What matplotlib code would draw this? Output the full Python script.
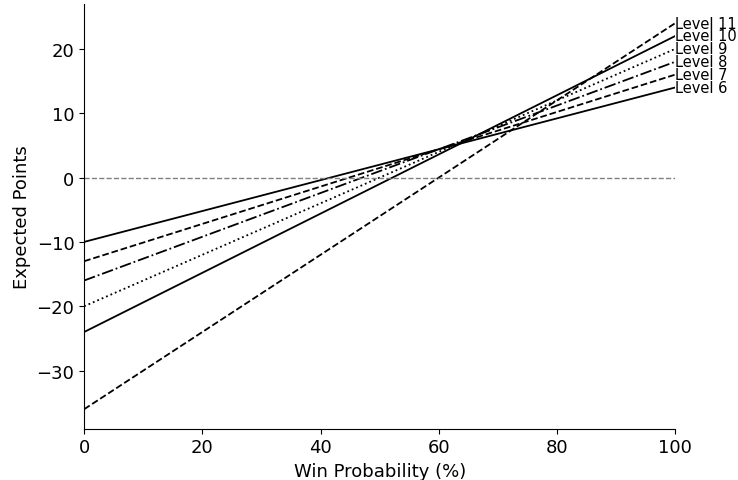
import matplotlib
matplotlib.use('Agg')
import matplotlib.pyplot as plt
import numpy as np

levels = ['Level 6', 'Level 7', 'Level 8', 'Level 9', 'Level 10', 'Level 11']
lose_pts = [-10, -13, -16, -20, -24, -36]
win_pts = [14, 16, 18, 20, 22, 24]
styles = ['-', '--', '-.', ':', '-', '--']

p = np.linspace(0, 100, 101)

fig, ax = plt.subplots(figsize=(7.38, 4.81), dpi=100)
fig.subplots_adjust(left=0.114, right=0.915, bottom=0.107, top=0.99)

for name, lo, hi, ls in zip(levels, lose_pts, win_pts, styles):
    ev = lo + (hi - lo) * p / 100
    ax.plot(p, ev, color='black', linestyle=ls, linewidth=1.3)
    ax.text(100, hi, name, fontsize=10.5, ha='left', va='center')

ax.plot([0, 100], [0, 0], color='gray', linestyle='--', linewidth=1)
ax.set_xlim(0, 100)
ax.margins(x=0)
ax.spines['top'].set_visible(False)
ax.spines['right'].set_visible(False)
ax.tick_params(labelsize=13)
ax.set_xlabel('Win Probability (%)', fontsize=13)
ax.set_ylabel('Expected Points', fontsize=13)

fig.savefig('out.png')
